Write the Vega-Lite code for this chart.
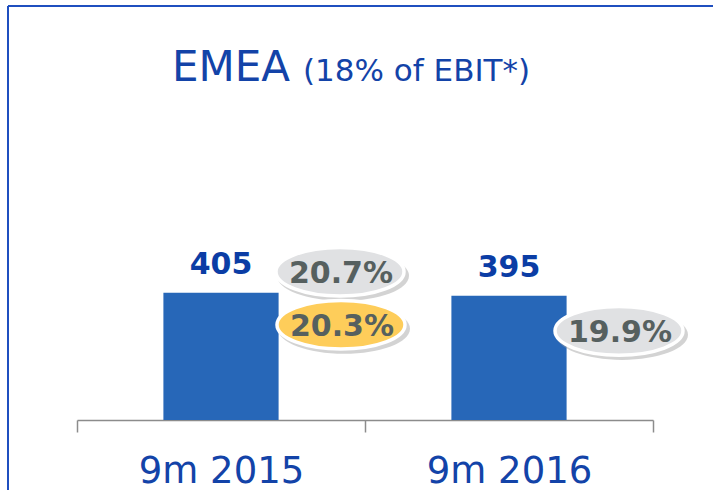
{
  "$schema": "https://vega.github.io/schema/vega-lite/v6.json",
  "width": 705,
  "height": 484,
  "autosize": {"type": "none"},
  "padding": {"left": 8, "top": 6, "right": 0, "bottom": 0},
  "background": "white",
  "config": {
    "font": "DejaVu Sans",
    "view": {"stroke": "#1F4FBF", "strokeWidth": 2, "strokeDash": [705, 1189, 484, 0]}
  },
  "title": {
    "text": "EMEA",
    "subtitle": "(18% of EBIT*)",
    "anchor": "start",
    "frame": "group",
    "orient": "top",
    "dx": 164,
    "offset": -76,
    "baseline": "alphabetic",
    "fontSize": 42,
    "fontWeight": "normal",
    "color": "#1343A8",
    "subtitleFontSize": 31,
    "subtitleColor": "#1343A8",
    "subtitlePadding": -30,
    "encode": {
      "title": {"update": {"dx": {"value": 164}, "dy": {"value": 41}}},
      "subtitle": {"update": {"dx": {"value": 295}, "dy": {"value": 29}}}
    }
  },
  "datasets": {
    "ebit": [
      {"period": "9m 2015", "ebit": 405},
      {"period": "9m 2016", "ebit": 395}
    ],
    "margins": [
      {"period": "9m 2015", "ebit": 405, "margin": "20.7%", "badge": "2015 reported"},
      {"period": "9m 2015", "ebit": 405, "margin": "20.3%", "badge": "2015 adjusted"},
      {"period": "9m 2016", "ebit": 395, "margin": "19.9%", "badge": "2016 reported"}
    ]
  },
  "encoding": {
    "x": {
      "field": "period",
      "type": "nominal",
      "sort": null,
      "scale": {"range": [69, 645], "paddingInner": 0, "paddingOuter": 0},
      "axis": {
        "title": null,
        "offset": -70,
        "tickBand": "extent",
        "domainColor": "#8C8C8C",
        "domainWidth": 1.5,
        "tickColor": "#8C8C8C",
        "tickWidth": 1.5,
        "tickSize": 12,
        "labelAngle": 0,
        "labelFontSize": 37,
        "labelColor": "#1343A8",
        "labelBaseline": "alphabetic",
        "labelPadding": 50,
        "grid": false
      }
    },
    "y": {
      "field": "ebit",
      "type": "quantitative",
      "scale": {"domain": [0, 700], "range": [414, 194]},
      "axis": null
    }
  },
  "layer": [
    {
      "data": {"name": "ebit"},
      "mark": {"type": "bar", "color": "#2767B8", "width": {"band": 0.4}}
    },
    {
      "data": {"name": "ebit"},
      "mark": {"type": "text", "baseline": "alphabetic", "dy": -19, "fontSize": 30, "fontWeight": "bold", "color": "#0B3DA5"},
      "encoding": {"text": {"field": "ebit", "type": "quantitative"}}
    },
    {
      "data": {"name": "margins"},
      "transform": [{"filter": "datum.badge === '2015 reported'"}],
      "layer": [
        {"mark": {"type": "point", "shape": "M -1 0 C -1 -0.2099 -0.5523 -0.38 0 -0.38 C 0.5523 -0.38 1 -0.2099 1 0 C 1 0.2099 0.5523 0.38 0 0.38 C -0.5523 0.38 -1 0.2099 -1 0 Z", "size": 17424, "filled": true, "color": "#9E9E9E", "opacity": 0.45, "xOffset": 122, "yOffset": -17}},
        {"mark": {"type": "point", "shape": "M -1 0 C -1 -0.2099 -0.5523 -0.38 0 -0.38 C 0.5523 -0.38 1 -0.2099 1 0 C 1 0.2099 0.5523 0.38 0 0.38 C -0.5523 0.38 -1 0.2099 -1 0 Z", "size": 16384, "filled": true, "fill": "#E0E1E3", "stroke": "white", "strokeWidth": 3.5, "opacity": 1, "xOffset": 119, "yOffset": -21}},
        {"mark": {"type": "text", "fontSize": 30, "fontWeight": "bold", "color": "#56605F", "baseline": "middle", "xOffset": 120, "yOffset": -19}, "encoding": {"text": {"field": "margin"}}}
      ]
    },
    {
      "data": {"name": "margins"},
      "transform": [{"filter": "datum.badge === '2015 adjusted'"}],
      "layer": [
        {"mark": {"type": "point", "shape": "M -1 0 C -1 -0.2099 -0.5523 -0.38 0 -0.38 C 0.5523 -0.38 1 -0.2099 1 0 C 1 0.2099 0.5523 0.38 0 0.38 C -0.5523 0.38 -1 0.2099 -1 0 Z", "size": 17424, "filled": true, "color": "#9E9E9E", "opacity": 0.45, "xOffset": 123, "yOffset": 36}},
        {"mark": {"type": "point", "shape": "M -1 0 C -1 -0.2099 -0.5523 -0.38 0 -0.38 C 0.5523 -0.38 1 -0.2099 1 0 C 1 0.2099 0.5523 0.38 0 0.38 C -0.5523 0.38 -1 0.2099 -1 0 Z", "size": 16384, "filled": true, "fill": "#FECD5A", "stroke": "white", "strokeWidth": 3.5, "opacity": 1, "xOffset": 120, "yOffset": 32}},
        {"mark": {"type": "text", "fontSize": 30, "fontWeight": "bold", "color": "#56605F", "baseline": "middle", "xOffset": 121, "yOffset": 34}, "encoding": {"text": {"field": "margin"}}}
      ]
    },
    {
      "data": {"name": "margins"},
      "transform": [{"filter": "datum.badge === '2016 reported'"}],
      "layer": [
        {"mark": {"type": "point", "shape": "M -1 0 C -1 -0.2099 -0.5523 -0.38 0 -0.38 C 0.5523 -0.38 1 -0.2099 1 0 C 1 0.2099 0.5523 0.38 0 0.38 C -0.5523 0.38 -1 0.2099 -1 0 Z", "size": 17424, "filled": true, "color": "#9E9E9E", "opacity": 0.45, "xOffset": 113, "yOffset": 39}},
        {"mark": {"type": "point", "shape": "M -1 0 C -1 -0.2099 -0.5523 -0.38 0 -0.38 C 0.5523 -0.38 1 -0.2099 1 0 C 1 0.2099 0.5523 0.38 0 0.38 C -0.5523 0.38 -1 0.2099 -1 0 Z", "size": 16384, "filled": true, "fill": "#E0E1E3", "stroke": "white", "strokeWidth": 3.5, "opacity": 1, "xOffset": 110, "yOffset": 35}},
        {"mark": {"type": "text", "fontSize": 30, "fontWeight": "bold", "color": "#56605F", "baseline": "middle", "xOffset": 111, "yOffset": 37}, "encoding": {"text": {"field": "margin"}}}
      ]
    }
  ]
}
